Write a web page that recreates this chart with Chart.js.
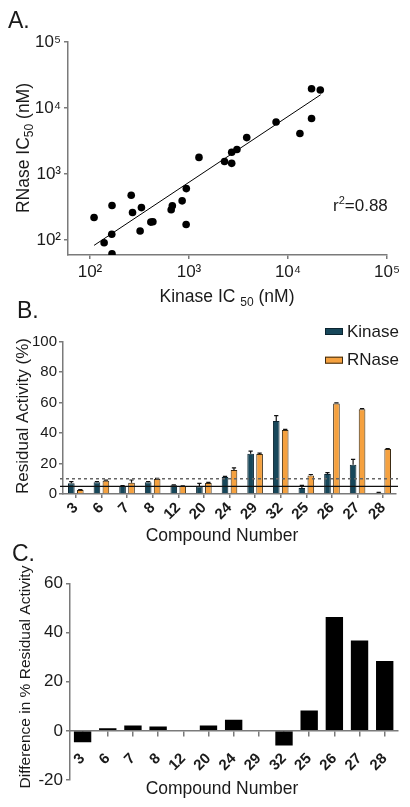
<!DOCTYPE html>
<html><head><meta charset="utf-8">
<script src="https://cdn.jsdelivr.net/npm/chart.js@4.4.1/dist/chart.umd.min.js"></script>
<style>
html,body{margin:0;padding:0;background:#fff;width:410px;height:807px;overflow:hidden;}
canvas{position:absolute;left:0;}
</style></head><body>
<canvas id="cA" width="410" height="310" style="top:0px"></canvas>
<canvas id="cB" width="410" height="248" style="top:300px"></canvas>
<canvas id="cC" width="410" height="267" style="top:540px"></canvas>
<script>
// ---------- DATA ----------
// Panel A: IC50 values (nM)
const kinaseIC50 = [110,139,166,167,167,261,269,321,331,412,432,661,679,853,940,936,1262,2286,2700,2700,3050,3830,7580,13200,17300,17300,21200];
const rnaseIC50  = [219,91,122,62,334,476,261,137,310,187,189,287,330,392,601,172,1786,1550,2140,1450,2350,3560,6140,4100,6950,19600,18700];
const fitLineX = [110, 21400];
const fitLineY = [83, 15900];
const logTicks = [100, 1000, 10000, 100000];
const logTickLabels = ['10²', '10³', '10⁴', '10⁵'];
const rSquared = '0.88';

// Panel B: residual activity (%)
const compounds = ['3','6','7','8','12','20','24','29','32','25','26','27','28'];
const kinaseActivity = [7.0,7.7,5.2,7.7,5.7,5.0,11.1,26.4,47.9,3.9,13.1,19.2,0.9];
const kinaseErr      = [1.1,0.5,0.3,0.5,0.3,2.0,0.5,1.8,3.5,1.8,0.9,3.5,0.2];
const rnaseActivity  = [2.6,8.7,7.4,9.8,5.2,7.2,15.7,26.2,42.0,12.2,59.5,55.7,29.5];
const rnaseErr       = [0.3,0.4,1.8,0.4,0.2,0.4,1.5,0.6,0.4,0.6,0.3,0.3,0.3];
const activityTicks = [0,20,40,60,80,100];
const cutoffSolid = 5;
const cutoffDashed = 10;

// Panel C: difference in % residual activity
const differenceValues = [-4.6,1.0,2.2,1.8,-0.3,2.2,4.5,0,-6.0,8.3,46.3,36.7,28.4];
const differenceTicks = [-20,0,20,40,60];

// ---------- STYLE ----------
const FONT = '"Liberation Sans", Arial, sans-serif';
const TXT = '#1a1a1a';
const AXIS = '#7a7a7a';
const KIN = '#17475a';
const RNA = '#f5a13f';

// rich text plugin
const annot = {
  id: 'annot',
  afterDraw(chart, args, opts) {
    const ctx = chart.ctx;
    (opts.items || []).forEach(it => {
      ctx.save();
      ctx.translate(it.x, it.y);
      if (it.rot) ctx.rotate(it.rot);
      ctx.fillStyle = it.color || TXT;
      ctx.textBaseline = 'alphabetic';
      ctx.textAlign = 'left';
      let total = 0;
      const parts = it.parts.map(p => {
        ctx.font = (p.weight || 'normal') + ' ' + p.size + 'px ' + (p.fam || FONT);
        const w = ctx.measureText(p.t).width;
        total += w;
        return Object.assign({}, p, {w: w});
      });
      let x = it.align === 'left' ? 0 : (it.align === 'right' ? -total : -total / 2);
      parts.forEach(p => {
        ctx.font = (p.weight || 'normal') + ' ' + p.size + 'px ' + (p.fam || FONT);
        ctx.fillText(p.t, x, p.dy || 0);
        x += p.w;
      });
      ctx.restore();
    });
  }
};

// error bars + reference lines + legend for panel B
const extrasB = {
  id: 'extrasB',
  afterDatasetsDraw(chart) {
    const ctx = chart.ctx;
    const ys = chart.scales.y;
    const errs = [kinaseErr, rnaseErr];
    const vals = [kinaseActivity, rnaseActivity];
    ctx.save();
    ctx.strokeStyle = '#111';
    ctx.lineWidth = 1.2;
    [0, 1].forEach(d => {
      const meta = chart.getDatasetMeta(d);
      meta.data.forEach((bar, j) => {
        const top = ys.getPixelForValue(vals[d][j] + errs[d][j]);
        const half = bar.width * 0.32;
        ctx.beginPath();
        ctx.moveTo(bar.x, bar.y);
        ctx.lineTo(bar.x, top);
        ctx.moveTo(bar.x - half, top);
        ctx.lineTo(bar.x + half, top);
        ctx.stroke();
      });
    });
    const a = chart.chartArea;
    let y = ys.getPixelForValue(cutoffSolid);
    ctx.strokeStyle = '#111'; ctx.lineWidth = 1.3; ctx.setLineDash([]);
    ctx.beginPath(); ctx.moveTo(a.left - 3, y); ctx.lineTo(a.right + 2, y); ctx.stroke();
    y = ys.getPixelForValue(cutoffDashed);
    ctx.strokeStyle = '#666'; ctx.lineWidth = 1.5; ctx.setLineDash([3, 3]);
    ctx.beginPath(); ctx.moveTo(a.left - 3, y); ctx.lineTo(a.right + 2, y); ctx.stroke();
    ctx.setLineDash([]);
    chart.data.datasets.forEach((ds, i) => {
      const by = 28 + i * 28.7;
      ctx.fillStyle = ds.backgroundColor;
      ctx.fillRect(325, by, 18, 7);
      ctx.strokeStyle = ds.borderColor; ctx.lineWidth = 1;
      ctx.strokeRect(325.5, by + 0.5, 17, 6);
      ctx.fillStyle = TXT;
      ctx.font = '17px ' + FONT;
      ctx.textBaseline = 'middle';
      ctx.fillText(ds.label, 347, by + 4);
    });
    ctx.restore();
  }
};

Chart.defaults.font.family = FONT;
Chart.defaults.color = TXT;

const tickGrid = (len) => ({display: true, drawOnChartArea: false, drawTicks: true, tickLength: len, color: AXIS, lineWidth: 1.5, offset: false});
const border = {display: true, color: AXIS, width: 1.5};

// ---------- PANEL A ----------
new Chart(document.getElementById('cA'), {
  type: 'scatter',
  data: {
    datasets: [
      {data: kinaseIC50.map((x, i) => ({x: x, y: rnaseIC50[i]})), backgroundColor: '#000', borderColor: '#000', pointRadius: 3.8, pointHoverRadius: 3.8, borderWidth: 0},
      {type: 'line', data: fitLineX.map((x, i) => ({x: x, y: fitLineY[i]})), borderColor: '#000', borderWidth: 1, pointRadius: 0, fill: false, showLine: true}
    ]
  },
  options: {
    responsive: false, animation: false, events: [],
    layout: {padding: {left: 0, right: 23, top: 42, bottom: 0}},
    plugins: {
      legend: {display: false}, tooltip: {enabled: false},
      annot: {items: [
        {x: 8, y: 28, align: 'left', parts: [{t: 'A.', size: 23}]},
        {x: 29, y: 148, rot: -Math.PI / 2, parts: [{t: 'RNase IC', size: 17.5}, {t: '50', size: 12, dy: 4}, {t: ' (nM)', size: 17.5}]},
        {x: 227, y: 302, parts: [{t: 'Kinase IC ', size: 17.5}, {t: '50', size: 12, dy: 4}, {t: ' (nM)', size: 17.5}]},
        {x: 333, y: 211, align: 'left', parts: [{t: 'r', size: 17}, {t: '2', size: 11, dy: -7}, {t: '=' + rSquared, size: 17}]}
      ]}
    },
    scales: {
      x: {type: 'logarithmic', min: 60, max: 100000,
        afterBuildTicks: s => { s.ticks = logTicks.map(v => ({value: v})); },
        afterFit: s => { s.height = 55; s.paddingLeft = 0; s.paddingRight = 0; },
        ticks: {autoSkip: false, maxRotation: 0, padding: 3, font: {size: 17}, color: TXT,
          callback: v => logTickLabels[logTicks.indexOf(v)] || ''},
        grid: tickGrid(4), border: border},
      y: {type: 'logarithmic', min: 59.3, max: 100000,
        afterBuildTicks: s => { s.ticks = logTicks.map(v => ({value: v})); },
        afterFit: s => { s.width = 68; s.paddingTop = 0; s.paddingBottom = 0; },
        ticks: {autoSkip: false, padding: 3, font: {size: 17}, color: TXT,
          callback: v => logTickLabels[logTicks.indexOf(v)] || ''},
        grid: tickGrid(4), border: border}
    }
  },
  plugins: [annot]
});

// ---------- PANEL B ----------
new Chart(document.getElementById('cB'), {
  type: 'bar',
  data: {
    labels: compounds,
    datasets: [
      {label: 'Kinase', data: kinaseActivity, backgroundColor: KIN, borderColor: '#0b2430', borderWidth: 1, categoryPercentage: 0.7, barPercentage: 0.74},
      {label: 'RNase', data: rnaseActivity, backgroundColor: RNA, borderColor: '#3b2a12', borderWidth: 1, categoryPercentage: 0.7, barPercentage: 0.74}
    ]
  },
  options: {
    responsive: false, animation: false, events: [],
    layout: {padding: {left: 0, right: 14, top: 41.7, bottom: 0}},
    plugins: {
      legend: {display: false}, tooltip: {enabled: false},
      annot: {items: [
        {x: 17, y: 18, align: 'left', parts: [{t: 'B.', size: 23}]},
        {x: 28, y: 116, rot: -Math.PI / 2, parts: [{t: 'Residual Activity (%)', size: 17}]},
        {x: 222, y: 241, parts: [{t: 'Compound Number', size: 17.5}]}
      ]}
    },
    scales: {
      x: {afterFit: s => { s.height = 54; s.paddingLeft = 0; s.paddingRight = 0; },
        ticks: {autoSkip: false, minRotation: 45, maxRotation: 45, padding: 1, font: {size: 15, weight: 'bold'}, color: TXT},
        grid: tickGrid(4), border: border},
      y: {min: 0, max: 100,
        afterBuildTicks: s => { s.ticks = activityTicks.map(v => ({value: v})); },
        afterFit: s => { s.width = 63; s.paddingTop = 0; s.paddingBottom = 0; },
        ticks: {padding: 2, font: {size: 15}, color: TXT},
        grid: tickGrid(4), border: border}
    }
  },
  plugins: [annot, extrasB]
});

// ---------- PANEL C ----------
new Chart(document.getElementById('cC'), {
  type: 'bar',
  data: {
    labels: compounds,
    datasets: [
      {label: 'Difference', data: differenceValues, backgroundColor: '#000', borderColor: '#000', borderWidth: 0, categoryPercentage: 0.69, barPercentage: 1}
    ]
  },
  options: {
    responsive: false, animation: false, events: [],
    layout: {padding: {left: 0, right: 12.7, top: 43.3, bottom: 27}},
    plugins: {
      legend: {display: false}, tooltip: {enabled: false},
      annot: {items: [
        {x: 12, y: 21, align: 'left', parts: [{t: 'C.', size: 23}]},
        {x: 30, y: 137, rot: -Math.PI / 2, parts: [{t: 'Difference in % Residual Activity', size: 15.5}]},
        {x: 222, y: 254, parts: [{t: 'Compound Number', size: 17.5}]}
      ]}
    },
    scales: {
      x: {position: {y: 0},
        afterFit: s => { s.paddingLeft = 0; s.paddingRight = 0; },
        ticks: {autoSkip: false, minRotation: 45, maxRotation: 45, padding: 14, font: {size: 15, weight: 'bold'}, color: TXT},
        grid: tickGrid(5), border: border},
      y: {min: -20, max: 60,
        afterBuildTicks: s => { s.ticks = differenceTicks.map(v => ({value: v})); },
        afterFit: s => { s.width = 70; s.paddingTop = 0; s.paddingBottom = 0; },
        ticks: {padding: 3, font: {size: 17}, color: TXT},
        grid: tickGrid(4), border: border}
    }
  },
  plugins: [annot]
});
</script>
</body></html>
